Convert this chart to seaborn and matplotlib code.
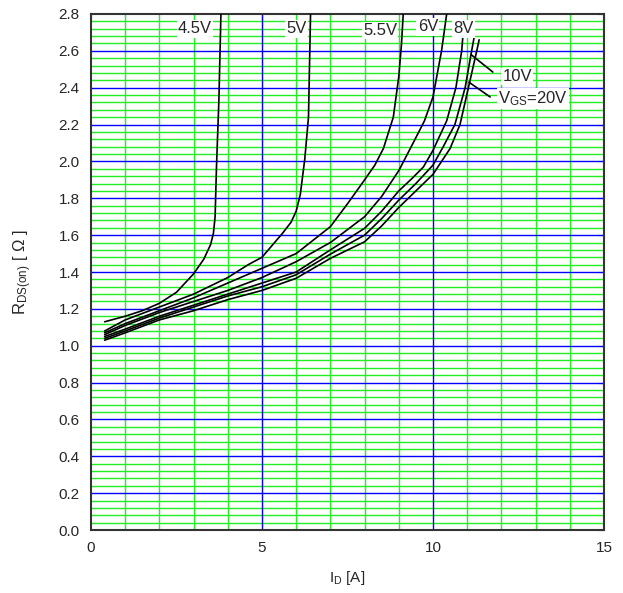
import numpy as np
import pandas as pd
import matplotlib
matplotlib.use("Agg")
import matplotlib.pyplot as plt
import seaborn as sns

# Curve data (ID in A, RDS(on) in ohm)
vgs_labels = ["4.5V", "5V", "5.5V", "6V", "8V", "10V", "20V"]

id_45 = [0.4, 1.0, 1.5, 2.0, 2.5, 3.0, 3.3, 3.5, 3.58, 3.63, 3.67, 3.74, 3.8]
r_45 = [1.13, 1.16, 1.19, 1.23, 1.29, 1.39, 1.47, 1.55, 1.61, 1.70, 1.97, 2.33, 2.8]

id_5 = [0.4, 1.0, 2.0, 3.0, 4.0, 4.6, 5.0, 5.6, 5.85, 6.0, 6.12, 6.25, 6.36, 6.42]
r_5 = [1.08, 1.14, 1.21, 1.28, 1.37, 1.44, 1.48, 1.61, 1.67, 1.73, 1.82, 2.01, 2.24, 2.8]

id_55 = [0.4, 1.0, 2.0, 3.0, 4.0, 5.0, 6.0, 7.0, 7.5, 8.0, 8.3, 8.55, 8.84, 9.0, 9.08, 9.13]
r_55 = [1.07, 1.12, 1.19, 1.26, 1.34, 1.42, 1.50, 1.646, 1.77, 1.90, 1.98, 2.07, 2.24, 2.46, 2.64, 2.8]

id_6 = [0.4, 1, 2, 3, 4, 5, 6, 7, 8, 8.5, 9, 9.42, 9.75, 10, 10.25, 10.4]
r_6 = [1.06, 1.11, 1.18, 1.24, 1.30, 1.37, 1.456, 1.56, 1.70, 1.81, 1.95, 2.10, 2.22, 2.35, 2.6, 2.8]

id_8 = [0.4, 1, 2, 3, 4, 5, 6, 7, 8, 8.5, 9, 9.4, 9.72, 10.0, 10.4, 10.67, 10.84, 10.87]
r_8 = [1.05, 1.09, 1.16, 1.22, 1.28, 1.34, 1.40, 1.52, 1.637, 1.73, 1.84, 1.91, 1.97, 2.06, 2.22, 2.4, 2.6, 2.67]

id_10 = [0.4, 1, 2, 3, 4, 5, 6, 7, 8, 8.5, 9, 9.5, 10, 10.3, 10.64, 10.94, 11.13, 11.2]
r_10 = [1.04, 1.08, 1.15, 1.21, 1.27, 1.32, 1.385, 1.497, 1.60, 1.69, 1.79, 1.88, 1.98, 2.08, 2.2, 2.4, 2.6, 2.67]

id_20 = [0.4, 1, 2, 3, 4, 5, 6, 7, 8, 8.5, 9, 9.5, 10, 10.5, 10.79, 11.06, 11.28, 11.35]
r_20 = [1.03, 1.07, 1.14, 1.19, 1.25, 1.30, 1.366, 1.474, 1.564, 1.65, 1.75, 1.84, 1.93, 2.07, 2.2, 2.42, 2.6, 2.66]

curves = {
    "4.5V": (id_45, r_45),
    "5V": (id_5, r_5),
    "5.5V": (id_55, r_55),
    "6V": (id_6, r_6),
    "8V": (id_8, r_8),
    "10V": (id_10, r_10),
    "20V": (id_20, r_20),
}

frames = []
for name, (xs, ys) in curves.items():
    frames.append(pd.DataFrame({"ID": xs, "RDS": ys, "VGS": name}))
df = pd.concat(frames, ignore_index=True)

sns.set_style("white")
plt.rcParams['font.family'] = ['Liberation Sans', 'DejaVu Sans']
plt.rcParams['mathtext.fontset'] = 'custom'
plt.rcParams['mathtext.rm'] = 'Liberation Sans'
plt.rcParams['mathtext.it'] = 'Liberation Sans'

fig = plt.figure(figsize=(6.23, 5.93), dpi=100)
ax = fig.add_axes([0.146, 0.1062, 0.8235, 0.8702])

# grid: green minor, blue major
for yv in np.arange(0.04, 2.8, 0.04):
    is_major = abs(yv / 0.2 - round(yv / 0.2)) < 1e-6
    if is_major:
        ax.axhline(yv, color='blue', lw=1.0, zorder=1.5)
    else:
        ax.axhline(yv, color='#22ee22', lw=1.0, zorder=1)
for xv in range(1, 15):
    if xv % 5 == 0:
        ax.axvline(xv, color='blue', lw=1.0, zorder=1.6)
    else:
        ax.axvline(xv, color='#22ee22', lw=1.0, zorder=1.2)

sns.lineplot(data=df, x="ID", y="RDS", hue="VGS", units="VGS", estimator=None, sort=False,
             palette=['black'] * len(vgs_labels), legend=False, lw=1.2, ax=ax, zorder=3)

ax.set_xlim(0, 15)
ax.set_ylim(0, 2.8)
ax.set_xticks([0, 5, 10, 15])
ax.set_xticks(np.arange(0, 15.01, 1), minor=True)
ax.set_yticks(np.arange(0, 2.81, 0.2))
ax.set_yticks(np.arange(0, 2.81, 0.04), minor=True)
ax.set_yticklabels([f"{v:.1f}" for v in np.arange(0, 2.81, 0.2)])
ax.tick_params(which='both', direction='in', top=True, right=True, color='#222222')
ax.tick_params(which='major', length=4, labelsize=11, pad=8)
ax.tick_params(which='minor', length=3)
for sp in ax.spines.values():
    sp.set_color('#333333')
    sp.set_linewidth(1.5)

ax.set_xlabel(r"I$_{\mathrm{D}}$ [A]", fontsize=11, labelpad=10)
ax.set_ylabel(r"R$_{\mathrm{DS(on)}}$ [ Ω ]", fontsize=12, labelpad=18)

box = dict(facecolor='white', edgecolor='none', pad=1.0)
ax.text(3.04, 2.72, "4.5V", ha='center', va='center', fontsize=12, bbox=box, zorder=4)
ax.text(6.0, 2.72, "5V", ha='center', va='center', fontsize=12, bbox=box, zorder=4)
ax.text(8.45, 2.71, "5.5V", ha='center', va='center', fontsize=12, bbox=box, zorder=4)
ax.text(9.85, 2.73, "6V", ha='center', va='center', fontsize=12, bbox=box, zorder=4)
ax.text(10.9, 2.72, "8V", ha='center', va='center', fontsize=12, bbox=box, zorder=4)
ax.text(12.46, 2.46, "10V", ha='center', va='center', fontsize=12, bbox=box, zorder=4)
ax.text(11.9, 2.34, r"V$_{\mathrm{GS}}$=20V", ha='left', va='center', fontsize=12, bbox=box, zorder=4)

# leader lines
ax.plot([11.11, 11.75], [2.58, 2.485], color='black', lw=1.2, zorder=4)
ax.plot([11.05, 11.67], [2.43, 2.35], color='black', lw=1.2, zorder=4)

fig.savefig("out.png", dpi=100)
